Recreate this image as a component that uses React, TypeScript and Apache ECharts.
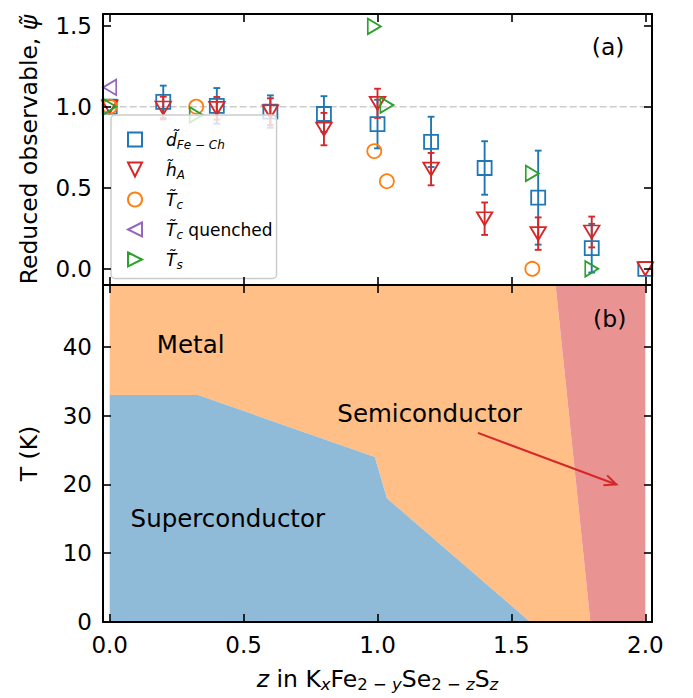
import React, { useEffect, useRef } from "react";
import * as echarts from "echarts";

// ---- axis ticks ----
const zTicks = [0, 0.5, 1.0, 1.5, 2.0];
const psiTicks = [0, 0.5, 1.0, 1.5];
const tempTicks = [0, 10, 20, 30, 40];

// ---- panel (a): reduced observables ----
const dZ = [0, 0.2, 0.4, 0.6, 0.8, 1.0, 1.2, 1.4, 1.6, 1.8, 2.0];
const dVal = [1.0, 1.03, 1.005, 0.97, 0.955, 0.893, 0.783, 0.622, 0.439, 0.127, 0.0];
const dErr = [0, 0.1, 0.11, 0.1, 0.11, 0.15, 0.155, 0.165, 0.29, 0.15, 0];

const hZ = [0, 0.2, 0.4, 0.6, 0.8, 1.0, 1.2, 1.4, 1.6, 1.8, 2.0];
const hVal = [1.0, 0.992, 0.99, 0.969, 0.862, 1.021, 0.615, 0.309, 0.217, 0.227, 0.0];
const hErr = [0, 0.07, 0.07, 0.083, 0.1, 0.09, 0.1, 0.1, 0.1, 0.095, 0];

const tcZ = [0, 0.323, 0.988, 1.035, 1.578];
const tcVal = [1.0, 1.0, 0.726, 0.54, 0.0];

const tcqZ = [0];
const tcqVal = [1.12];

const tsZ = [0, 0.323, 0.988, 1.035, 1.578, 1.8];
const tsVal = [1.0, 0.949, 1.495, 1.01, 0.588, 0.0];

const refLineZ = [0, 2];
const refLineVal = [1, 1];

// ---- panel (b): phase diagram boundaries (z, T) ----
const superconductorEdge = [
  [0, 33],
  [0.33, 33],
  [0.99, 24],
  [1.035, 18],
  [1.57, 0],
];
const semiconductorEdge = [
  [1.665, 49],
  [1.795, 0],
];
const phaseLabels = ["Metal", "Semiconductor", "Superconductor"];
const phaseLabelZ = [0.176, 0.85, 0.078];
const phaseLabelT = [40.4, 30.3, 15.1];
const arrowFrom = [1.375, 27.5];
const arrowTo = [1.892, 20.0];

const FONT = "DejaVu Sans";
const BLUE = "#1f77b4";
const ORANGE = "#ff7f0e";
const GREEN = "#2ca02c";
const RED = "#d62728";
const PURPLE = "#9467bd";

const Z_MIN = -0.025;
const Z_MAX = 2.025;
const PSI_MIN = -0.1;
const PSI_MAX = 1.572;
const T_MIN = 0;
const T_MAX = 49;

const TRI_DOWN = "path://M0,0L2,0L1,2Z";
const TRI_LEFT = "path://M2,0L0,1L2,2Z";
const TRI_RIGHT = "path://M0,0L2,1L0,2Z";

const legendText: Record<string, string> = {
  dFeCh: "{a|d\u0303}{s|Fe \u2212 Ch}",
  hA: "{a|h\u0303}{s|A}",
  Tc: "{a|T\u0303}{s|c}",
  TcQ: "{a|T\u0303}{s|c}{r| quenched}",
  Ts: "{a|T\u0303}{s|s}",
};

const NAME_SIZE = 23.5;
const SUB_SIZE = 16.5;

function frameLine() {
  return { show: true, onZero: false, lineStyle: { color: "#000", width: 2 } };
}
function inwardTicks(values: number[]) {
  return {
    show: true,
    inside: true,
    length: 8,
    customValues: values,
    lineStyle: { color: "#000", width: 1.6 },
  };
}
function tickLabels(values: number[], fmt: (v: number) => string, show: boolean) {
  return {
    show,
    customValues: values,
    formatter: (v: number) => fmt(v),
    color: "#000",
    fontSize: 23,
    fontFamily: FONT,
    margin: 11,
  };
}

function errorBarSeries(z: number[], v: number[], e: number[], color: string) {
  return {
    type: "custom",
    xAxisIndex: 0,
    yAxisIndex: 0,
    silent: true,
    z: 2,
    data: z.map((x, i) => [x, v[i], e[i]]),
    encode: { x: 0, y: 1 },
    renderItem: (_p: any, api: any) => {
      const x = api.value(0);
      const y = api.value(1);
      const err = api.value(2);
      if (!err) return { type: "group", children: [] };
      const top = api.coord([x, y + err]);
      const bot = api.coord([x, y - err]);
      const cap = 3.4;
      const st = { stroke: color, lineWidth: 1.9 };
      return {
        type: "group",
        children: [
          { type: "line", shape: { x1: top[0], y1: top[1], x2: bot[0], y2: bot[1] }, style: st },
          { type: "line", shape: { x1: top[0] - cap, y1: top[1], x2: top[0] + cap, y2: top[1] }, style: st },
          { type: "line", shape: { x1: bot[0] - cap, y1: bot[1], x2: bot[0] + cap, y2: bot[1] }, style: st },
        ],
      };
    },
  };
}

function markerSeries(name: string, z: number[], v: number[], symbol: string, size: any, color: string) {
  return {
    type: "scatter",
    name,
    xAxisIndex: 0,
    yAxisIndex: 0,
    silent: true,
    z: 3,
    symbol,
    symbolSize: size,
    data: z.map((x, i) => [x, v[i]]),
    itemStyle: { color: "rgba(0,0,0,0)", borderColor: color, borderWidth: 1.8, opacity: 1 },
  };
}

export default function App() {
  const ref = useRef<HTMLDivElement>(null);

  useEffect(() => {
    if (!ref.current) return;
    const chart = echarts.init(ref.current, undefined, { renderer: "svg" });

    const metalPoly = [[0, T_MAX], ...superconductorEdge, ...semiconductorEdge.slice().reverse()];
    const superPoly = [[0, 0], ...superconductorEdge];
    const semiPoly = [...semiconductorEdge, [2, 0], [2, T_MAX]];
    const regions = [
      { pts: metalPoly, color: "#ffbf86" },
      { pts: superPoly, color: "#8fbbd9" },
      { pts: semiPoly, color: "#ea9393" },
    ];

    const textStyleMain = { color: "#000", fontFamily: FONT };

    const option: any = {
      animation: false,
      textStyle: { fontFamily: FONT },
      grid: [
        { left: 103, top: 14, width: 549, height: 271 },
        { left: 103, top: 285, width: 549, height: 337 },
      ],
      xAxis: [
        {
          type: "value", gridIndex: 0, position: "bottom", min: Z_MIN, max: Z_MAX, z: 10,
          axisLine: frameLine(), axisTick: inwardTicks(zTicks),
          axisLabel: tickLabels(zTicks, (v) => v.toFixed(1), false), splitLine: { show: false },
        },
        {
          type: "value", gridIndex: 0, position: "top", min: Z_MIN, max: Z_MAX, z: 10,
          axisLine: frameLine(), axisTick: inwardTicks(zTicks),
          axisLabel: { show: false }, splitLine: { show: false },
        },
        {
          type: "value", gridIndex: 1, position: "bottom", min: Z_MIN, max: Z_MAX, z: 10,
          axisLine: frameLine(), axisTick: inwardTicks(zTicks),
          axisLabel: tickLabels(zTicks, (v) => v.toFixed(1), true), splitLine: { show: false },
          name: "{i|z}{r| in K}{si|x}{r|Fe}{s|2 \u2212 }{si|y}{r|Se}{s|2 \u2212 }{si|z}{r|S}{si|z}",
          nameLocation: "middle",
          nameGap: 43,
          nameTextStyle: {
            ...textStyleMain,
            fontSize: NAME_SIZE,
            rich: {
              i: { fontSize: NAME_SIZE, fontStyle: "italic", fontFamily: FONT, color: "#000", lineHeight: 28, verticalAlign: "middle" },
              r: { fontSize: NAME_SIZE, fontFamily: FONT, color: "#000", lineHeight: 28, verticalAlign: "middle" },
              s: { fontSize: SUB_SIZE, fontFamily: FONT, color: "#000", lineHeight: 16, verticalAlign: "bottom" },
              si: { fontSize: SUB_SIZE, fontStyle: "italic", fontFamily: FONT, color: "#000", lineHeight: 16, verticalAlign: "bottom" },
            },
          },
        },
        {
          type: "value", gridIndex: 1, position: "top", min: Z_MIN, max: Z_MAX, z: 10,
          axisLine: frameLine(), axisTick: inwardTicks(zTicks),
          axisLabel: { show: false }, splitLine: { show: false },
        },
      ],
      yAxis: [
        {
          type: "value", gridIndex: 0, position: "left", min: PSI_MIN, max: PSI_MAX, z: 10,
          axisLine: frameLine(), axisTick: inwardTicks(psiTicks),
          axisLabel: tickLabels(psiTicks, (v) => v.toFixed(1), true), splitLine: { show: false },
          name: "{r|Reduced observable, }{i|\u03c8\u0303}",
          nameLocation: "middle",
          nameGap: 62,
          nameTextStyle: {
            ...textStyleMain,
            fontSize: NAME_SIZE,
            rich: {
              r: { fontSize: NAME_SIZE, fontFamily: FONT, color: "#000" },
              i: { fontSize: NAME_SIZE, fontStyle: "italic", fontFamily: FONT, color: "#000" },
            },
          },
        },
        {
          type: "value", gridIndex: 0, position: "right", min: PSI_MIN, max: PSI_MAX, z: 10,
          axisLine: frameLine(), axisTick: inwardTicks(psiTicks),
          axisLabel: { show: false }, splitLine: { show: false },
        },
        {
          type: "value", gridIndex: 1, position: "left", min: T_MIN, max: T_MAX, z: 10,
          axisLine: frameLine(), axisTick: inwardTicks(tempTicks),
          axisLabel: tickLabels(tempTicks, (v) => String(v), true), splitLine: { show: false },
          name: "T (K)",
          nameLocation: "middle",
          nameGap: 62,
          nameTextStyle: { ...textStyleMain, fontSize: NAME_SIZE },
        },
        {
          type: "value", gridIndex: 1, position: "right", min: T_MIN, max: T_MAX, z: 10,
          axisLine: frameLine(), axisTick: inwardTicks(tempTicks),
          axisLabel: { show: false }, splitLine: { show: false },
        },
      ],
      legend: {
        data: ["dFeCh", "hA", "Tc", "TcQ", "Ts"],
        orient: "vertical",
        left: 111,
        top: 115,
        padding: [16, 4, 8, 16],
        itemWidth: 14,
        itemHeight: 14,
        itemGap: 10.5,
        selectedMode: false,
        backgroundColor: "rgba(255,255,255,0.8)",
        borderColor: "#cccccc",
        borderWidth: 1.5,
        borderRadius: 4,
        formatter: (name: string) => legendText[name],
        textStyle: {
          color: "#000",
          fontFamily: FONT,
          fontSize: 17,
          rich: {
            a: { fontSize: 17, fontStyle: "italic", fontFamily: FONT, color: "#000", lineHeight: 22, verticalAlign: "middle", padding: [0, 0, 0, 19] },
            s: { fontSize: 12, fontStyle: "italic", fontFamily: FONT, color: "#000", lineHeight: 10, verticalAlign: "bottom" },
            r: { fontSize: 17, fontFamily: FONT, color: "#000", lineHeight: 22, verticalAlign: "middle" },
          },
        },
      },
      series: [
        // reference level
        {
          type: "line",
          xAxisIndex: 0,
          yAxisIndex: 0,
          silent: true,
          z: 1,
          symbol: "none",
          data: refLineZ.map((x, i) => [x, refLineVal[i]]),
          lineStyle: { color: "#cccccc", width: 1.6, type: [7, 3] },
        },
        errorBarSeries(dZ, dVal, dErr, BLUE),
        errorBarSeries(hZ, hVal, hErr, RED),
        markerSeries("dFeCh", dZ, dVal, "rect", 14, BLUE),
        markerSeries("hA", hZ, hVal, TRI_DOWN, [15.5, 13], RED),
        markerSeries("Tc", tcZ, tcVal, "circle", 14, ORANGE),
        markerSeries("TcQ", tcqZ, tcqVal, TRI_LEFT, [13, 15.5], PURPLE),
        markerSeries("Ts", tsZ, tsVal, TRI_RIGHT, [13, 15.5], GREEN),
        // panel tag (a)
        {
          type: "custom",
          xAxisIndex: 0,
          yAxisIndex: 0,
          silent: true,
          z: 5,
          data: [[1.8, 1.369]],
          renderItem: (_p: any, api: any) => {
            const p = api.coord([api.value(0), api.value(1)]);
            return {
              type: "text", x: p[0], y: p[1],
              style: { text: "(a)", fill: "#000", fontSize: 23.5, fontFamily: FONT, align: "left", verticalAlign: "middle" },
            };
          },
        },
        // phase regions
        {
          type: "custom",
          xAxisIndex: 2,
          yAxisIndex: 2,
          silent: true,
          clip: true,
          z: 1,
          data: regions.map((_r, i) => [i]),
          renderItem: (params: any, api: any) => {
            const reg = regions[params.dataIndex];
            return {
              type: "polygon",
              shape: { points: reg.pts.map((pt) => api.coord(pt)) },
              style: { fill: reg.color, stroke: "none" },
            };
          },
        },
        // phase labels
        {
          type: "custom",
          xAxisIndex: 2,
          yAxisIndex: 2,
          silent: true,
          z: 5,
          data: phaseLabels.map((_t, i) => [phaseLabelZ[i], phaseLabelT[i]]),
          renderItem: (params: any, api: any) => {
            const p = api.coord([api.value(0), api.value(1)]);
            return {
              type: "text", x: p[0], y: p[1],
              style: { text: phaseLabels[params.dataIndex], fill: "#000", fontSize: 24.5, fontFamily: FONT, align: "left", verticalAlign: "middle" },
            };
          },
        },
        // panel tag (b)
        {
          type: "custom",
          xAxisIndex: 2,
          yAxisIndex: 2,
          silent: true,
          z: 5,
          data: [[1.805, 44.1]],
          renderItem: (_p: any, api: any) => {
            const p = api.coord([api.value(0), api.value(1)]);
            return {
              type: "text", x: p[0], y: p[1],
              style: { text: "(b)", fill: "#000", fontSize: 23.5, fontFamily: FONT, align: "left", verticalAlign: "middle" },
            };
          },
        },
        // arrow pointing into the semiconducting region
        {
          type: "custom",
          xAxisIndex: 2,
          yAxisIndex: 2,
          silent: true,
          z: 6,
          data: [[arrowFrom[0], arrowFrom[1], arrowTo[0], arrowTo[1]]],
          renderItem: (_p: any, api: any) => {
            const p0 = api.coord([api.value(0), api.value(1)]);
            const p1 = api.coord([api.value(2), api.value(3)]);
            const ang = Math.atan2(p1[1] - p0[1], p1[0] - p0[0]);
            const L = 13;
            const h = (24 * Math.PI) / 180;
            const a1 = [p1[0] - L * Math.cos(ang - h), p1[1] - L * Math.sin(ang - h)];
            const a2 = [p1[0] - L * Math.cos(ang + h), p1[1] - L * Math.sin(ang + h)];
            const st = { stroke: RED, lineWidth: 2, fill: "none" };
            return {
              type: "group",
              children: [
                { type: "line", shape: { x1: p0[0], y1: p0[1], x2: p1[0], y2: p1[1] }, style: st },
                { type: "polyline", shape: { points: [a1, p1, a2] }, style: st },
              ],
            };
          },
        },
      ],
    };

    chart.setOption(option);
    return () => chart.dispose();
  }, []);

  return (
    <div
      ref={ref}
      style={{ position: "fixed", left: 0, top: 0, width: 693, height: 698, background: "#fff" }}
    />
  );
}
